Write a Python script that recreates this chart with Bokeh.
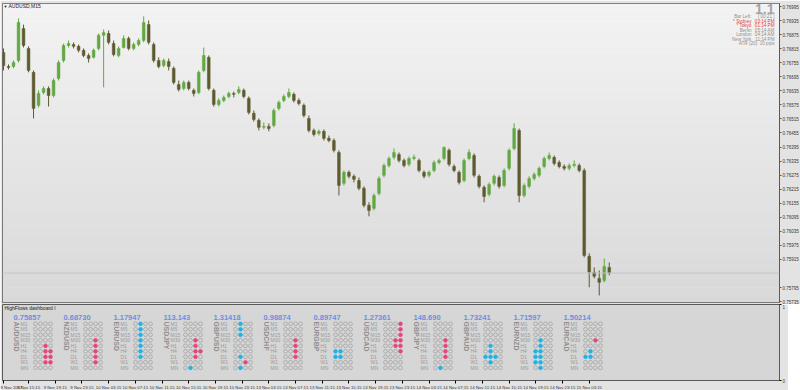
import math
from bokeh.plotting import figure
from bokeh.layouts import column
from bokeh.models import (Range1d, LinearAxis, FixedTicker, ColumnDataSource, Label, Span,
                          CustomJSTickFormatter)
from bokeh.embed import file_html
from bokeh.resources import INLINE
from bokeh.core.properties import value

# ---------------- data (prices in points of 0.00001) ----------------
chart_title = "AUDUSD,M15"
candle_step = 3  # M15 bars per drawn candle

open_pts = [76799, 76739, 76739, 76765, 76901, 76816, 76714, 76573, 76628, 76645,
            76615, 76688, 76765, 76829, 76833, 76825, 76808, 76786, 76778, 76816,
            76872, 76880, 76837, 76786, 76820, 76859, 76816, 76833, 76850, 76918,
            76833, 76765, 76743, 76760, 76731, 76662, 76645, 76671, 76637, 76628,
            76722, 76778, 76637, 76577, 76594, 76611, 76624, 76628, 76637, 76603,
            76539, 76509, 76479, 76483, 76487, 76560, 76594, 76611, 76620, 76594,
            76573, 76517, 76466, 76453, 76462, 76432, 76423, 76372, 76240, 76287,
            76270, 76252, 76219, 76146, 76133, 76197, 76274, 76316, 76351, 76363,
            76338, 76321, 76346, 76338, 76287, 76274, 76295, 76329, 76346, 76381,
            76312, 76287, 76252, 76346, 76359, 76270, 76223, 76193, 76240, 76265,
            76231, 76304, 76389, 76466, 76188, 76227, 76261, 76274, 76312, 76346,
            76351, 76329, 76312, 76304, 76316, 76316, 76295, 75928, 75860, 75834,
            75825, 75881]
high_pts = [76816, 76748, 76765, 76944, 76918, 76825, 76722, 76637, 76654, 76654,
            76688, 76765, 76837, 76850, 76842, 76833, 76816, 76795, 76816, 76880,
            76897, 76893, 76850, 76825, 76872, 76867, 76842, 76859, 76953, 76936,
            76842, 76778, 76773, 76773, 76739, 76679, 76679, 76679, 76645, 76722,
            76820, 76786, 76645, 76603, 76615, 76632, 76632, 76654, 76645, 76611,
            76551, 76517, 76500, 76496, 76560, 76594, 76620, 76645, 76628, 76603,
            76581, 76530, 76474, 76470, 76470, 76444, 76432, 76381, 76295, 76295,
            76278, 76265, 76227, 76159, 76197, 76270, 76325, 76355, 76389, 76372,
            76346, 76355, 76363, 76346, 76295, 76295, 76338, 76346, 76398, 76389,
            76321, 76295, 76346, 76385, 76368, 76278, 76231, 76244, 76278, 76274,
            76304, 76389, 76496, 76474, 76240, 76270, 76287, 76312, 76355, 76372,
            76359, 76338, 76321, 76325, 76338, 76325, 76304, 75941, 75881, 75868,
            75919, 75902]
low_pts = [76722, 76726, 76731, 76756, 76820, 76714, 76517, 76564, 76620, 76568,
           76607, 76679, 76756, 76820, 76816, 76799, 76778, 76756, 76773, 76808,
           76650, 76833, 76782, 76778, 76816, 76808, 76808, 76825, 76842, 76833,
           76756, 76731, 76735, 76722, 76662, 76632, 76637, 76637, 76611, 76620,
           76714, 76637, 76568, 76568, 76586, 76603, 76607, 76620, 76603, 76534,
           76504, 76466, 76470, 76462, 76479, 76551, 76586, 76603, 76585, 76573,
           76521, 76457, 76440, 76444, 76423, 76415, 76372, 76188, 76231, 76261,
           76244, 76210, 76137, 76099, 76124, 76188, 76265, 76308, 76342, 76329,
           76308, 76312, 76338, 76287, 76261, 76265, 76287, 76321, 76338, 76312,
           76287, 76235, 76244, 76338, 76265, 76218, 76159, 76184, 76231, 76218,
           76223, 76295, 76381, 76159, 76180, 76218, 76252, 76265, 76304, 76338,
           76316, 76304, 76295, 76295, 76308, 76287, 75924, 75796, 75834, 75761,
           75817, 75847]
close_pts = [76743, 76735, 76756, 76927, 76829, 76722, 76560, 76624, 76645, 76615,
             76679, 76756, 76829, 76837, 76825, 76808, 76786, 76773, 76808, 76872,
             76884, 76842, 76790, 76816, 76859, 76816, 76833, 76850, 76927, 76842,
             76765, 76739, 76765, 76739, 76671, 76641, 76671, 76645, 76624, 76714,
             76786, 76645, 76577, 76594, 76607, 76624, 76620, 76641, 76611, 76543,
             76513, 76479, 76483, 76474, 76551, 76585, 76611, 76628, 76594, 76581,
             76530, 76466, 76449, 76462, 76432, 76423, 76381, 76231, 76287, 76270,
             76257, 76219, 76146, 76124, 76188, 76261, 76316, 76346, 76372, 76338,
             76316, 76346, 76351, 76295, 76270, 76287, 76329, 76338, 76393, 76321,
             76295, 76244, 76338, 76372, 76274, 76227, 76184, 76235, 76270, 76227,
             76295, 76381, 76474, 76188, 76231, 76261, 76278, 76304, 76346, 76359,
             76325, 76312, 76304, 76316, 76321, 76295, 75932, 75860, 75843, 75817,
             75885, 75857]

current_price = 0.75857
price_ticks = [0.76995, 0.76935, 0.76875, 0.76815, 0.76755, 0.76695, 0.76635, 0.76575, 0.76515,
               0.76455, 0.76395, 0.76335, 0.76275, 0.76215, 0.76155, 0.76095, 0.76035, 0.75975,
               0.75915, 0.75795, 0.75735]

time_labels = ["9 Nov 2017", "9 Nov 15:15", "9 Nov 19:15", "9 Nov 23:15", "10 Nov 03:15",
               "10 Nov 07:15", "10 Nov 11:15", "10 Nov 15:15", "10 Nov 19:15", "10 Nov 23:15",
               "13 Nov 03:15", "13 Nov 07:15", "13 Nov 11:15", "13 Nov 15:15", "13 Nov 19:15",
               "13 Nov 23:15", "14 Nov 03:15", "14 Nov 07:15", "14 Nov 11:15", "14 Nov 15:15",
               "14 Nov 19:15", "14 Nov 23:15", "15 Nov 03:15"]
time_label_bars = [0] + [15 + 16 * k for k in range(len(time_labels) - 1)]

version_text = "1.1"
clock_names = ["Bar Left:", "* Sydney", "* Tokyo", "Berlin", "London", "New York"]
clock_values = ["[ 00:21 ]", "03:14 PM", "01:14 PM", "05:14 AM", "04:14 AM", "11:14 PM"]
clock_open = [False, True, True, False, False, False]
atr_text = "ATR (20): 10 pips"

dash_title = "HighFlows dashboard I"
symbols = ["AUDUSD", "NZDUSD", "EURUSD", "USDJPY", "GBPUSD", "USDCHF",
           "EURGBP", "USDCAD", "GBPJPY", "GBPAUD", "EURNZD", "EURCAD"]
quotes = ["0.75857", "0.68730", "1.17947", "113.143", "1.31418", "0.98874",
          "0.89747", "1.27361", "148.690", "1.73241", "1.71597", "1.50214"]
timeframes = ["M1", "M5", "M15", "M30", "H1", "H4", "D1", "W1", "MN"]
# o = empty, r = bearish (pink), b = bullish (cyan); rows M1..MN, 4 columns
signals = {
    "AUDUSD": ["oooo", "oooo", "oooo", "oooo", "ooro", "oorr", "oorr", "oorr", "oooo"],
    "NZDUSD": ["oooo", "oooo", "oooo", "ooro", "ooro", "ooro", "ooro", "ooro", "oooo"],
    "EURUSD": ["oboo", "oboo", "oboo", "oboo", "oboo", "oboo", "oboo", "oooo", "oooo"],
    "USDJPY": ["oooo", "oooo", "oooo", "ooro", "ooro", "oorr", "ooro", "oooo", "oboo"],
    "GBPUSD": ["oboo", "oboo", "oboo", "oooo", "oooo", "oooo", "oboo", "ooro", "oboo"],
    "USDCHF": ["oooo", "oooo", "oooo", "ooro", "ooro", "ooro", "ooro", "oooo", "oooo"],
    "EURGBP": ["oooo", "oooo", "oooo", "oooo", "oooo", "bboo", "bboo", "oooo", "oooo"],
    "USDCAD": ["ooor", "ooor", "ooor", "oorr", "oorr", "ooor", "oooo", "oooo", "oooo"],
    "GBPJPY": ["oooo", "oooo", "oooo", "ooro", "ooro", "ooro", "ooro", "oooo", "oboo"],
    "GBPAUD": ["oooo", "oooo", "oooo", "oooo", "oboo", "oboo", "bbbo", "oboo", "oooo"],
    "EURNZD": ["oooo", "oooo", "oooo", "oboo", "oboo", "bboo", "bboo", "bboo", "oboo"],
    "EURCAD": ["oooo", "oooo", "oooo", "ooro", "oooo", "oboo", "bboo", "oooo", "oooo"],
}

# ---------------- layout constants ----------------
FW = 777
FH = 299
PX_PER_BAR = 26.7 / 16
UP, DOWN = "#62a842", "#5e5a30"
FONT = "Liberation Sans"
AXFONT = "Liberation Sans"

opens = [v / 1e5 for v in open_pts]
highs = [v / 1e5 for v in high_pts]
lows = [v / 1e5 for v in low_pts]
closes = [v / 1e5 for v in close_pts]

x_range = Range1d(-0.6, -0.6 + FW / PX_PER_BAR)
y_top = 0.77008
y_bot = 0.75731

p = figure(frame_width=FW, frame_height=FH, min_border_left=2, min_border_top=3,
           min_border_bottom=2, min_border_right=0, x_range=x_range,
           y_range=Range1d(y_bot, y_top), x_axis_location=None, y_axis_location="right",
           output_backend="svg", toolbar_location=None)
p.grid.visible = False
p.background_fill_color = "#e8e8e8"
p.border_fill_color = "#e3e3e3"
p.outline_line_color = "#5a5a5a"

# background gradient (style only)
nb = 40
for i in range(nb):
    t = i / (nb - 1)
    g = int(round(0xf3 + (0xd9 - 0xf3) * t))
    col = "#%02x%02x%02x" % (g, g, g)
    b_top = y_top - (y_top - y_bot) * i / nb
    b_bot = y_top - (y_top - y_bot) * (i + 1) / nb
    p.quad(left=x_range.start, right=x_range.end, top=b_top, bottom=b_bot,
           fill_color=col, line_color=None)

bars = [k * candle_step for k in range(len(closes))]
colors = [UP if c >= o else DOWN for o, c in zip(opens, closes)]
src = ColumnDataSource(dict(x=bars, o=opens, h=highs, l=lows, c=closes,
                            top=[max(o, c) for o, c in zip(opens, closes)],
                            bot=[min(o, c) for o, c in zip(opens, closes)],
                            col=colors))
p.add_layout(Span(location=current_price, dimension="width", line_color="#c4c4c4", line_width=1))
p.segment(x0="x", y0="l", x1="x", y1="h", color="col", line_width=1, source=src)
p.vbar(x="x", top="top", bottom="bot", width=candle_step * 0.55, fill_color="col",
       line_color="col", line_width=0.5, source=src)

yax = p.yaxis[0]
yax.ticker = FixedTicker(ticks=price_ticks)
yax.formatter = CustomJSTickFormatter(code="return tick.toFixed(5);")
yax.major_label_text_font = AXFONT
yax.major_label_text_font_size = "4.5px"
yax.major_label_text_color = "#333333"
yax.major_tick_out = 2
yax.major_tick_in = 0
yax.minor_tick_line_color = None
yax.major_label_standoff = 1
yax.axis_line_color = "#5a5a5a"
yax.major_tick_line_color = "#5a5a5a"

p.add_layout(Label(x=FW + 1, y=current_price, y_units="data", x_units="screen",
                   text="%.5f" % current_price, text_font=AXFONT, text_font_size="4.5px",
                   text_color="white", text_baseline="middle", background_fill_color="black",
                   padding=1))


def sy(wy):
    return FH - (wy - 3)


p.add_layout(Label(x=1, y=sy(6), x_units="screen", y_units="screen", text="\u25bc",
                   text_font_size="4px", text_color="#222222", text_baseline="middle"))
p.add_layout(Label(x=6, y=sy(5.5), x_units="screen", y_units="screen", text=chart_title,
                   text_font=FONT, text_font_size="5px", text_color="#222222",
                   text_baseline="middle"))
p.add_layout(Label(x=FW - 5, y=sy(8), x_units="screen", y_units="screen", text=version_text,
                   text_font=FONT, text_font_size="14px", text_font_style="bold",
                   text_color="#a3a3a3", text_align="right", text_baseline="middle"))
for i, (nm, vl, op) in enumerate(zip(clock_names, clock_values, clock_open)):
    wy = 16 + 4.5 * i
    colr = "#e0393e" if op else "#8f8f8f"
    p.add_layout(Label(x=FW - 28, y=sy(wy), x_units="screen", y_units="screen", text=nm,
                       text_font=FONT, text_font_size="4.6px", text_color=colr,
                       text_align="right", text_baseline="middle"))
    p.add_layout(Label(x=FW - 5, y=sy(wy), x_units="screen", y_units="screen", text=vl,
                       text_font=FONT, text_font_size="4.6px", text_color=colr,
                       text_align="right", text_baseline="middle"))
p.add_layout(Label(x=FW - 5, y=sy(16 + 4.5 * 6), x_units="screen", y_units="screen", text=atr_text,
                   text_font=FONT, text_font_size="4.6px", text_color="#8f8f8f",
                   text_align="right", text_baseline="middle"))

# ---------------- dashboard ----------------
DH = 76
d = figure(frame_width=FW, frame_height=DH, min_border_left=2, min_border_top=0,
           min_border_bottom=0, min_border_right=0, x_range=Range1d(0, FW),
           y_range=Range1d(0, 1), x_axis_location=None, y_axis_location="right",
           output_backend="svg", toolbar_location=None)
d.grid.visible = False
d.background_fill_color = "#d6d6d6"
d.border_fill_color = "#e3e3e3"
d.outline_line_color = "#5a5a5a"
d.extra_x_ranges = {"bars": x_range}
ROW0_WY = 323.3
ROW_H = 5.5
top_wy, bot_wy = 304, 380
d.extra_y_ranges = {"rows": Range1d((bot_wy - ROW0_WY) / ROW_H, (top_wy - ROW0_WY) / ROW_H)}

dy = d.yaxis[0]
dy.ticker = FixedTicker(ticks=[0, 1])
dy.major_label_text_font = AXFONT
dy.major_label_text_font_size = "4.5px"
dy.major_tick_out = 2
dy.major_tick_in = 0
dy.minor_tick_line_color = None
dy.major_label_standoff = 1
dy.axis_line_color = "#5a5a5a"

tax = LinearAxis(x_range_name="bars", ticker=FixedTicker(ticks=time_label_bars),
                 major_label_overrides={b: t for b, t in zip(time_label_bars, time_labels)})
tax.major_label_text_font = AXFONT
tax.major_label_text_font_size = "4.3px"
tax.major_label_text_align = "left"
tax.major_label_text_color = "#333333"
tax.major_tick_out = 3
tax.major_tick_in = 0
tax.minor_tick_line_color = None
tax.major_label_standoff = 1
tax.axis_line_color = "#5a5a5a"
d.add_layout(tax, "below")

d.text(x=[2], y=[(307.5 - ROW0_WY) / ROW_H], text=[dash_title], text_font=value(FONT),
       text_font_size="5px", text_color="#222222", text_baseline="middle", y_range_name="rows")

BLOCK_W = 50
qx, sxs, tfx, tfy, tft = [], [], [], [], []
cx, cyy, cfill, cline = [], [], [], []
for i, s in enumerate(symbols):
    bx = 11 + BLOCK_W * i
    qx.append(bx)
    sxs.append(bx - 1)
    for r, tf in enumerate(timeframes):
        tfx.append(bx + 7)
        tfy.append(r)
        tft.append(tf)
        for c, ch in enumerate(signals[s][r]):
            cx.append(bx + 22 + 5 * c)
            cyy.append(r)
            if ch == "r":
                cfill.append("#e2467c"); cline.append("#e2467c")
            elif ch == "b":
                cfill.append("#1fb2e6"); cline.append("#1fb2e6")
            else:
                cfill.append(None); cline.append("#9c9c9c")

d.text(x=qx, y=[(317 - ROW0_WY) / ROW_H] * len(qx), text=quotes, text_font=value(FONT),
       text_font_size="7.5px", text_font_style="bold", text_color="#6b8fe0",
       text_baseline="middle", y_range_name="rows")
d.text(x=sxs, y=[(321 - ROW0_WY) / ROW_H] * len(sxs), text=symbols, angle=-math.pi / 2,
       text_font=value(FONT), text_font_size="7px", text_font_style="bold",
       text_color="#8f8f8f", text_baseline="bottom", text_align="left", y_range_name="rows")
d.text(x=tfx, y=tfy, text=tft, text_font=value(FONT), text_font_size="5px",
       text_color="#9a9a9a", text_baseline="middle", y_range_name="rows")
d.scatter(x=cx, y=cyy, size=3.8, marker="circle", fill_color=cfill, line_color=cline,
          line_width=0.7, y_range_name="rows")

layout = column(p, d, spacing=0)
open("out.html", "w").write(file_html(layout, INLINE))
